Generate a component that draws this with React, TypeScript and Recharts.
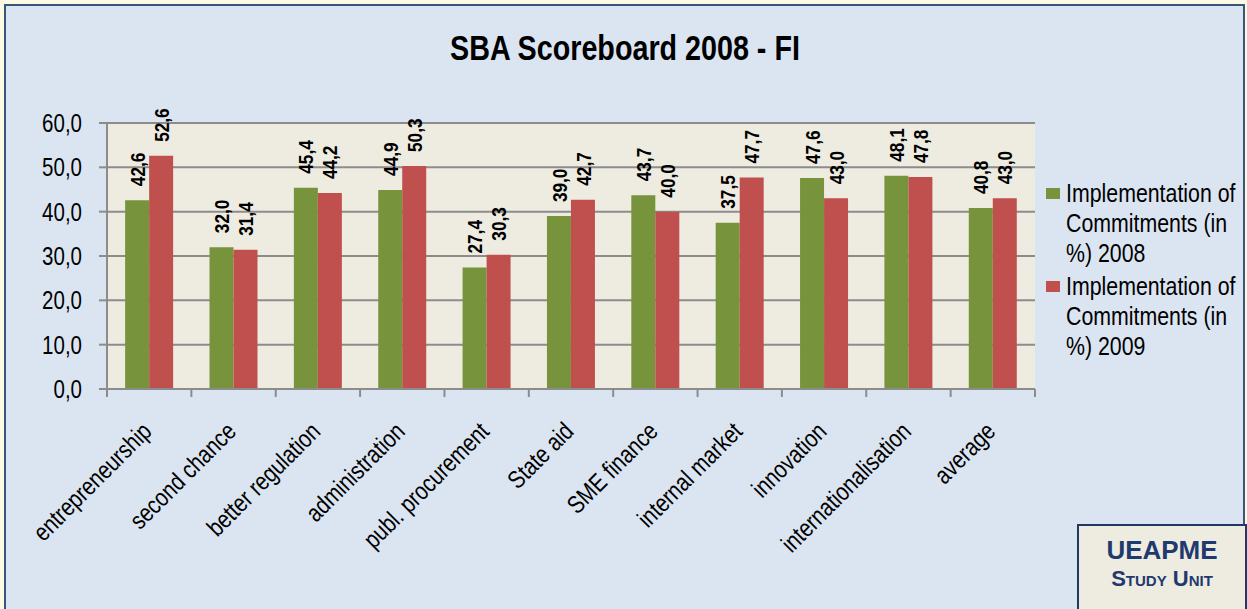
import React from "react";
import {
  BarChart,
  Bar,
  XAxis,
  YAxis,
  CartesianGrid,
  LabelList,
} from "recharts";

// ─── Data ────────────────────────────────────────────────────────────────────

const categories = [
  "entrepreneurship",
  "second chance",
  "better regulation",
  "administration",
  "publ. procurement",
  "State aid",
  "SME finance",
  "internal market",
  "innovation",
  "internationalisation",
  "average",
];
const values2008 = [42.6, 32.0, 45.4, 44.9, 27.4, 39.0, 43.7, 37.5, 47.6, 48.1, 40.8];
const values2009 = [52.6, 31.4, 44.2, 50.3, 30.3, 42.7, 40.0, 47.7, 43.0, 47.8, 43.0];
const yTicks = [0, 10, 20, 30, 40, 50, 60];
const seriesNames = [
  "Implementation of Commitments (in %) 2008",
  "Implementation of Commitments (in %) 2009",
];

const data = categories.map((name, i) => ({
  name,
  v2008: values2008[i],
  v2009: values2009[i],
}));

// ─── Styles ──────────────────────────────────────────────────────────────────

// no Arial Narrow available -> squeeze Liberation Sans horizontally
const FONT = "'Liberation Sans', Arial, sans-serif";
const SQ = 0.82;
const GREEN = "#77933c";
const RED = "#c0504d";
const GRID = "#8c8c8c";
const NAVY = "#1f3a6e";
const PLOT_W = 1247 - 107 - 212;

const fmt = (v: number) => v.toFixed(1).replace(".", ",");

// ─── Pieces ──────────────────────────────────────────────────────────────────

function ValueLabel(props: any) {
  const { x, y, width, value } = props;
  const cx = x + width / 2;
  const ty = y - 14;
  return (
    <text
      x={0}
      y={0}
      dy="0.36em"
      transform={`translate(${cx} ${ty}) rotate(-90) scale(${SQ} 1)`}
      textAnchor="start"
      fontFamily={FONT}
      fontWeight="bold"
      fontSize={21}
      fill="#000"
    >
      {fmt(value)}
    </text>
  );
}

function CategoryTick(props: any) {
  const { x, y, payload, index } = props;
  const half = payload?.offset || PLOT_W / categories.length / 2;
  const ax = x + 4;
  const ay = y + 44;
  return (
    <g>
      <line x1={x - half} x2={x - half} y1={y} y2={y + 8} stroke={GRID} strokeWidth={2} />
      {index === categories.length - 1 && (
        <line x1={x + half} x2={x + half} y1={y} y2={y + 8} stroke={GRID} strokeWidth={2} />
      )}
      <text
        x={0}
        y={0}
        transform={`translate(${ax} ${ay}) rotate(-45) scale(${SQ} 1)`}
        textAnchor="end"
        fontFamily={FONT}
        fontSize={25}
        fill="#000"
      >
        {payload.value}
      </text>
    </g>
  );
}

function ValueTick(props: any) {
  const { x, y, payload } = props;
  return (
    <text
      x={0}
      y={0}
      dy="0.36em"
      transform={`translate(${x} ${y}) scale(${SQ} 1)`}
      textAnchor="end"
      fontFamily={FONT}
      fontSize={25}
      fill="#000"
    >
      {fmt(payload.value)}
    </text>
  );
}

function SideLegend() {
  const colors = [GREEN, RED];
  return (
    <div style={{ position: "absolute", left: 1040, top: 178, width: 207 }}>
      {seriesNames.map((s, i) => (
        <div key={s} style={{ position: "relative", height: 93 }}>
          <span
            style={{
              position: "absolute",
              left: 6,
              top: 10,
              width: 14,
              height: 11,
              background: colors[i],
            }}
          />
          <div
            style={{
              position: "absolute",
              left: 26,
              top: 0,
              width: 216,
              fontFamily: FONT,
              fontSize: 26,
              lineHeight: "30px",
              color: "#000",
              transform: `scaleX(${SQ})`,
              transformOrigin: "0 0",
            }}
          >
            {s}
          </div>
        </div>
      ))}
    </div>
  );
}

// ─── Main ────────────────────────────────────────────────────────────────────

export default function App() {
  return (
    <div
      style={{
        position: "absolute",
        left: 0,
        top: 0,
        width: 1247,
        height: 609,
        overflow: "hidden",
        background: "#fcfae2",
      }}
    >
      {/* outer chart frame */}
      <div
        style={{
          position: "absolute",
          left: 4,
          top: 4,
          width: 1237,
          height: 700,
          border: "2px solid #3b5579",
          background: "#dbe5f1",
        }}
      />

      <div
        style={{
          position: "absolute",
          left: 0,
          top: 30,
          width: 1250,
          textAlign: "center",
          fontFamily: FONT,
          fontWeight: "bold",
          fontSize: 35,
          lineHeight: 1,
          color: "#000",
          transform: `scaleX(${SQ})`,
          transformOrigin: "625px 0",
        }}
      >
        SBA Scoreboard 2008 - FI
      </div>

      <div style={{ position: "absolute", left: 0, top: 0 }}>
        <BarChart
          width={1247}
          height={609}
          data={data}
          margin={{ top: 123, right: 212, bottom: 20, left: 0 }}
          barCategoryGap="21.5%"
          barGap={0}
        >
          <CartesianGrid vertical={false} stroke={GRID} strokeWidth={2} fill="#eeece1" />
          <XAxis
            dataKey="name"
            interval={0}
            height={200}
            tickSize={0}
            tickMargin={0}
            tickLine={false}
            axisLine={{ stroke: GRID, strokeWidth: 2 }}
            tick={<CategoryTick />}
          />
          <YAxis
            width={107}
            domain={[0, 60]}
            ticks={yTicks}
            tickSize={8}
            tickMargin={17}
            tick={<ValueTick />}
            tickLine={{ stroke: GRID, strokeWidth: 2 }}
            axisLine={{ stroke: GRID, strokeWidth: 2 }}
          />
          <Bar dataKey="v2008" name={seriesNames[0]} fill={GREEN} isAnimationActive={false}>
            <LabelList dataKey="v2008" content={<ValueLabel />} />
          </Bar>
          <Bar dataKey="v2009" name={seriesNames[1]} fill={RED} isAnimationActive={false}>
            <LabelList dataKey="v2009" content={<ValueLabel />} />
          </Bar>
        </BarChart>
      </div>

      <SideLegend />

      {/* UEAPME badge */}
      <div
        style={{
          position: "absolute",
          left: 1077,
          top: 524,
          width: 166,
          height: 100,
          border: "2px solid #1f3864",
          background: "#eeece1",
          textAlign: "center",
          color: NAVY,
          fontFamily: FONT,
          fontWeight: "bold",
        }}
      >
        <div style={{ fontSize: 26, lineHeight: "26px", marginTop: 11 }}>UEAPME</div>
        <div style={{ fontSize: 22, lineHeight: "22px", marginTop: 5, fontVariant: "small-caps" }}>
          Study Unit
        </div>
      </div>
    </div>
  );
}
